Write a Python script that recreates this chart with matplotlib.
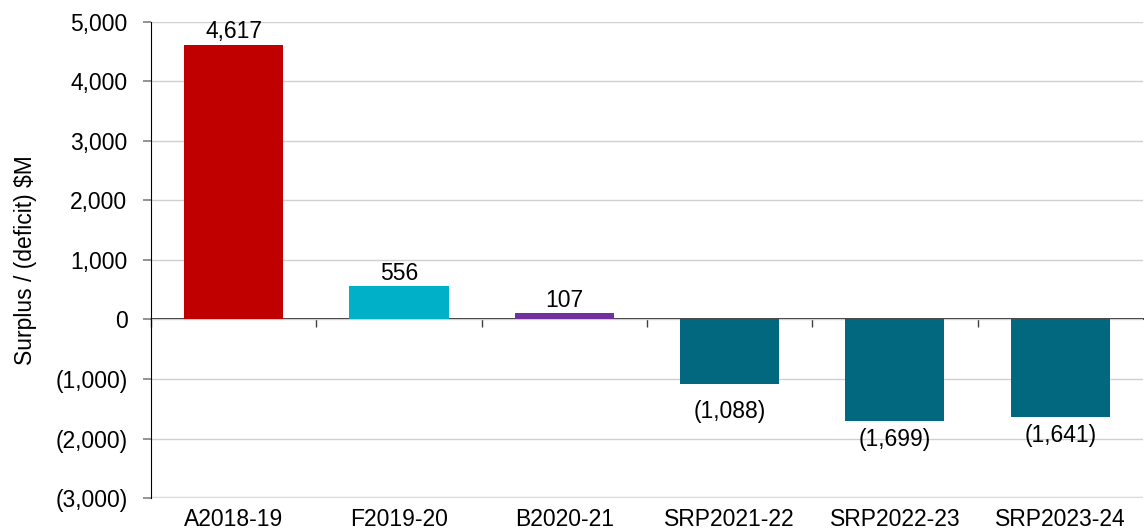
import matplotlib.pyplot as plt
from matplotlib.ticker import FuncFormatter

plt.rcParams['font.family'] = ['Liberation Sans', 'DejaVu Sans']

categories = ['A2018-19', 'F2019-20', 'B2020-21', 'SRP2021-22', 'SRP2022-23', 'SRP2023-24']
values = [4617, 556, 107, -1088, -1699, -1641]
colors = ['#C00000', '#00B0C8', '#7030A0', '#02687F', '#02687F', '#02687F']

FS = 16.5


def fmt(v, pos=None):
    if v < 0:
        return '({:,.0f})'.format(-v)
    return '{:,.0f}'.format(v)


fig, ax = plt.subplots(figsize=(11.44, 5.31), dpi=100)
fig.subplots_adjust(left=0.132, right=0.999, top=0.959, bottom=0.062)

x = list(range(len(categories)))
bars = ax.bar(x, values, width=0.6, color=colors, zorder=3)

for xi, v in zip(x, values):
    if v >= 0:
        ax.annotate(fmt(v), (xi, v), xytext=(0, 1), textcoords='offset points',
                    ha='center', va='bottom', fontsize=FS, zorder=4)
    else:
        # short bars get their label pushed a little further out
        off = -11 if v > -1500 else -5
        ax.annotate(fmt(v), (xi, v), xytext=(0, off), textcoords='offset points',
                    ha='center', va='top', fontsize=FS, zorder=4)

ax.set_xlim(-0.5, len(categories) - 0.5)
ax.set_ylim(-3000, 5000)
ax.set_yticks(range(-3000, 5001, 1000))
ax.yaxis.set_major_formatter(FuncFormatter(fmt))
ax.grid(axis='y', color='#d0d0d0', linewidth=1, zorder=0)
ax.set_axisbelow(True)

ax.set_xticks(x)
ax.set_xticklabels(categories)
ax.tick_params(axis='x', length=0, pad=7, labelsize=FS)
ax.tick_params(axis='y', length=6, color='#808080', width=1.2, labelsize=FS, pad=11)

for s in ['top', 'right', 'bottom']:
    ax.spines[s].set_visible(False)
ax.spines['left'].set_color('black')
ax.axhline(-3000, color='#d9d9d9', linewidth=2.5, zorder=1)

# zero line with ticks between categories
zero_pos = 3000 / 8000
sec = ax.secondary_xaxis(zero_pos)
sec.set_xticks([i + 0.5 for i in range(-1, len(categories) - 1)])
sec.set_xticklabels([])
sec.tick_params(axis='x', length=6, color='#404040', width=1)
sec.spines['bottom'].set_color('black')
sec.spines['bottom'].set_linewidth(1.2)

ax.set_ylabel('Surplus / (deficit) $M', fontsize=FS)
ax.yaxis.set_label_coords(-0.115, 0.5)

fig.savefig('out.png', dpi=100)
